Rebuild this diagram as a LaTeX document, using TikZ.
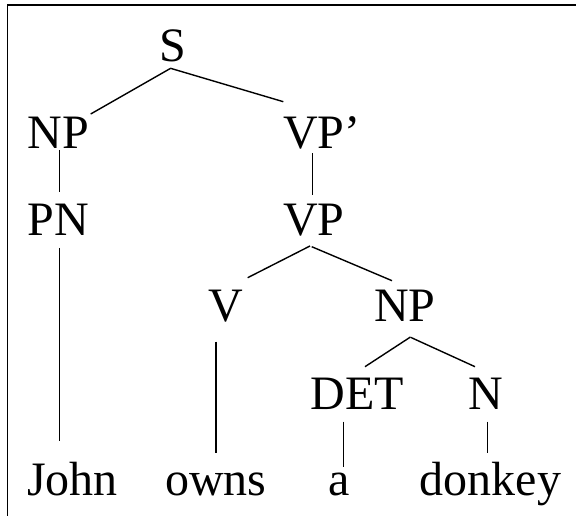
\documentclass[tikz,border=0pt]{standalone}
\usepackage{fontspec}
\setmainfont{Liberation Serif}
\begin{document}
\begin{tikzpicture}[x=1pt,y=1pt,
  lbl/.style={inner sep=0pt,outer sep=0pt,anchor=base,font=\fontsize{48}{48}\selectfont},
  edge/.style={line width=1.4pt},
  frame/.style={line width=1.6pt}]
\useasboundingbox (0,0) rectangle (576,516);
% frame
\draw[frame] (7.3,0) -- (7.3,511) -- (576,511);
% nodes
\node[lbl] (S) at (172.5,454) {S};
\node[lbl] (NPa) at (58.5,367) {NP};
\node[lbl,anchor=base west] (VPp) at (283,367) {VP’};
\node[lbl] (PN) at (58,280) {PN};
\node[lbl] (VP) at (314,280) {VP};
\node[lbl] (V) at (225.5,194) {V};
\node[lbl] (NPb) at (405,194) {NP};
\node[lbl] (DET) at (357.5,106) {DET};
\node[lbl] (N) at (486,106) {N};
\node[lbl] (John) at (72.5,20) {John};
\node[lbl] (owns) at (216,20) {owns};
\node[lbl] (a) at (339,20) {a};
\node[lbl] (donkey) at (490.5,20) {donkey};
% connectors
\draw[edge] ([shift={(-1.8,-6.3)}]S.base) -- ([shift={(32.2,35)}]NPa.base);
\draw[edge] ([shift={(-2,-6.3)}]S.base) -- ([shift={(0.3,47.3)}]VPp.base west);
\draw[edge] ([shift={(0.8,-1)}]NPa.base) -- ([shift={(1.3,44.3)}]PN.base);
\draw[edge] ([shift={(1.3,-12)}]PN.base) -- ([shift={(-13.2,55.3)}]John.base);
\draw[edge] ([shift={(29.3,-4.3)}]VPp.base west) -- ([shift={(-1.7,41)}]VP.base);
\draw[edge] ([shift={(-4,-10)}]VP.base) -- ([shift={(22.2,44.3)}]V.base);
\draw[edge] ([shift={(-2.3,-10.7)}]VP.base) -- ([shift={(-13,41.3)}]NPb.base);
\draw[edge] ([shift={(-9.5,-19.7)}]V.base) -- ([shift={(0,43)}]owns.base);
\draw[edge] ([shift={(5.5,-15)}]NPb.base) -- ([shift={(7.5,43.3)}]DET.base);
\draw[edge] ([shift={(6,-15.5)}]NPb.base) -- ([shift={(-11,43.3)}]N.base);
\draw[edge] ([shift={(-14.2,-11.7)}]DET.base) -- ([shift={(4.3,29.3)}]a.base);
\draw[edge] ([shift={(1.7,-11.7)}]N.base) -- ([shift={(-2.8,42.7)}]donkey.base);
\end{tikzpicture}
\end{document}
